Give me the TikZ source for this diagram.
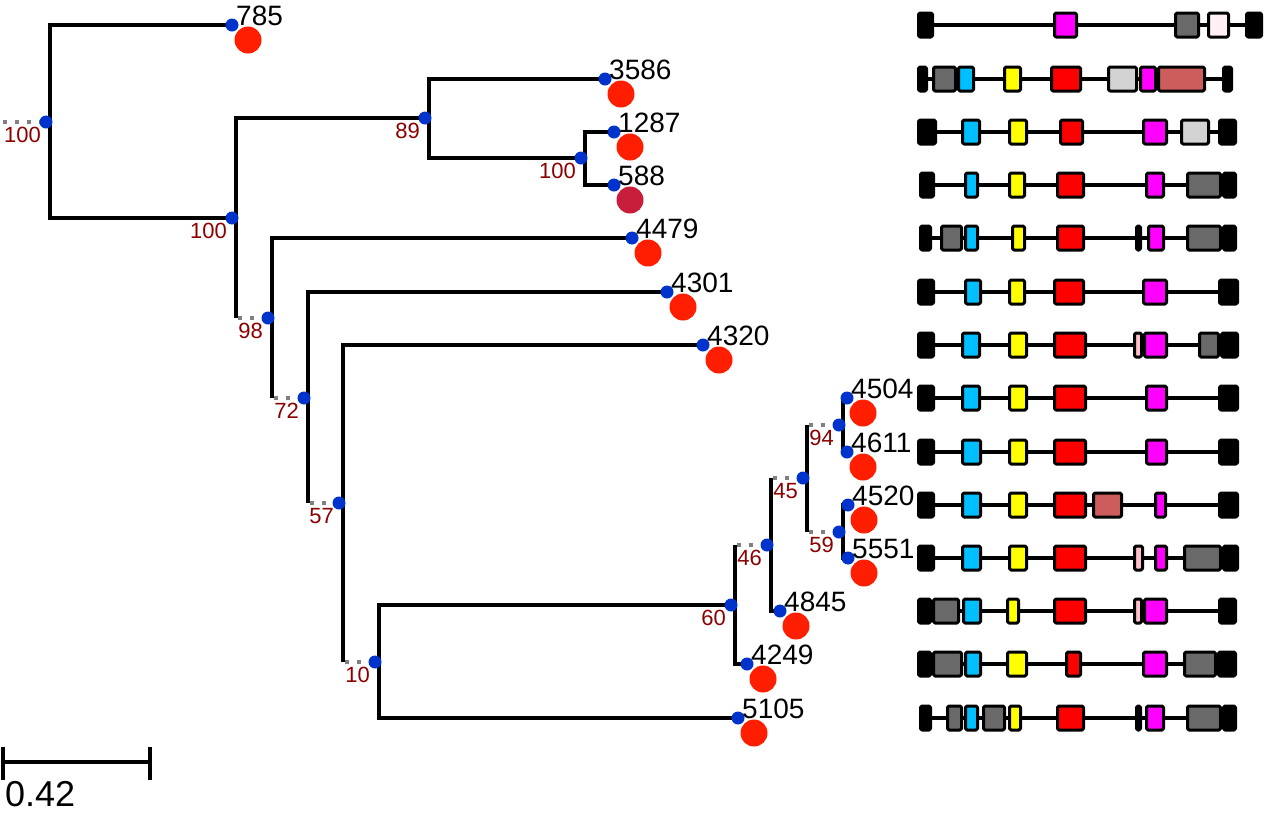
\documentclass[tikz,border=0pt]{standalone}
\usepackage{fontspec}
\setmainfont{Liberation Sans}
\usepackage{tikz}
\definecolor{nodeblue}{HTML}{0033CC}
\definecolor{tipred}{HTML}{FF1E00}
\definecolor{tipcrimson}{HTML}{C81E3C}
\definecolor{bootred}{HTML}{8B0000}
\definecolor{stubgray}{HTML}{808080}
\definecolor{dimgray}{HTML}{696969}
\definecolor{skyb}{HTML}{00BFFF}
\definecolor{lavblush}{HTML}{FFF0F5}
\definecolor{lgray}{HTML}{D3D3D3}
\definecolor{indred}{HTML}{CD5C5C}
\definecolor{pinkc}{HTML}{FFC0CB}
\definecolor{magc}{HTML}{FF00FF}
\definecolor{yelc}{HTML}{FFFF00}
\definecolor{redc}{HTML}{FF0000}
\tikzstyle{branch}=[line width=4pt,black]
\tikzstyle{stub}=[line width=4pt,stubgray,dash pattern=on 4pt off 8pt]
\tikzstyle{bdot}=[circle,fill=nodeblue,minimum size=13pt,inner sep=0pt]
\tikzstyle{rdot}=[circle,minimum size=27pt,inner sep=0pt]
\tikzstyle{tiplab}=[anchor=south west,inner sep=0pt,font=\fontsize{28}{30}\selectfont]
\tikzstyle{boot}=[anchor=north east,inner sep=0pt,text=bootred,font=\fontsize{22}{24}\selectfont]
\tikzstyle{backbone}=[line width=3.5pt,black]
\tikzstyle{dom}=[draw=black,line width=3pt,line join=round,rounded corners=1.5pt]
% y, left cap, right cap, domains x1/x2/colour
\newcommand{\protrow}[6]{%
  \draw[backbone] ({(#2+#3)/2},#1) -- ({(#4+#5)/2},#1);
  \foreach \a/\b in {#2/#3,#4/#5}
    \draw[dom,fill=black] (\a+1.5,#1-12) rectangle (\b-1.5,#1+12);
  \foreach \a/\b/\c in {#6}
    \draw[dom,fill=\c] (\a+1.5,#1-12) rectangle (\b-1.5,#1+12);}

\begin{document}
\begin{tikzpicture}[x=1pt,y=-1pt]
    \useasboundingbox (0,0) rectangle (1264,820);

    % inner nodes (x of the vertical line)
    \foreach \nm/\x/\y in {100a/50/122,100b/236/218,89/429/118,100c/585/158,98/272/318,
        72/308/398,57/343/503,10/379/662,60/735/605,46/771/545,45/807/478,94/843/425,59/843/532}
        \coordinate (n\nm) at (\x,\y);
    % leaves
    \foreach \nm/\x/\y in {785/232/25,3586/605/79,1287/614/132,588/614/185,4479/632/238,
        4301/667/292,4320/703/345,4504/847/398,4611/847/452,4520/848/505,4551/848/558,
        4845/780/611,4249/747/664,5105/738/718}
        \coordinate (t\nm) at (\x,\y);
    \coordinate (r0) at (3,122);

    \draw[stub] (r0) -- (n100a);
    \foreach \p/\c in {n100a/t785,n100a/n100b,n100b/n89,n89/t3586,n89/n100c,n100c/t1287,
        n100c/t588,n98/t4479,n72/t4301,n57/t4320,n10/n60,n10/t5105,n60/t4249,n46/t4845,
        n94/t4504,n94/t4611,n59/t4520,n59/t4551}
        \draw[branch] (\p) |- (\c);
    \foreach \p/\c in {n100b/n98,n98/n72,n72/n57,n57/n10,n60/n46,n46/n45,n45/n94,n45/n59}
    {
        \draw[branch] (\p) -- (\p |- \c);
        \draw[stub] ([xshift=2pt]\p |- \c) -- (\c);
    }

    \foreach \nm/\bs in {100a/100,100b/100,89/89,100c/100,98/98,72/72,57/57,10/10,
        60/60,46/46,45/45,94/94,59/59}
    {
        \node[bdot] (d\nm) at ([xshift=-4pt]n\nm) {};
        \node[boot] (b\nm) at ([shift={(-5,5)}]d\nm) {\bs};
    }
    \foreach \nm/\lab/\col in {785/785/tipred,3586/3586/tipred,1287/1287/tipred,588/588/tipcrimson,
        4479/4479/tipred,4301/4301/tipred,4320/4320/tipred,4504/4504/tipred,4611/4611/tipred,
        4520/4520/tipred,4551/5551/tipred,4845/4845/tipred,4249/4249/tipred,5105/5105/tipred}
    {
        \node[bdot] (d\nm) at (t\nm) {};
        \node[tiplab] (l\nm) at ([shift={(4,1)}]t\nm) {\lab};
        \node[rdot,fill=\col] (c\nm) at ([shift={(16,15)}]t\nm) {};
    }

    % domain architectures
    \protrow{25}{917}{934}{1245}{1263}{1053/1078/magc,1174/1200/dimgray,1207/1230/lavblush}
    \protrow{79}{917}{928}{1222}{1233}{932/957/dimgray,957/975/skyb,1003/1022/yelc,1050/1082/redc,1107/1138/lgray,1139/1157/magc,1157/1206/indred}
    \protrow{132}{917}{937}{1218}{1237}{961/981/skyb,1008/1028/yelc,1059/1084/redc,1142/1168/magc,1180/1210/lgray}
    \protrow{185}{919}{935}{1222}{1237}{964/979/skyb,1008/1026/yelc,1056/1085/redc,1145/1165/magc,1186/1222/dimgray}
    \protrow{238}{919}{932}{1222}{1237}{940/963/dimgray,964/979/skyb,1011/1026/yelc,1056/1085/redc,1135/1142/black,1147/1165/magc,1186/1222/dimgray}
    \protrow{292}{917}{935}{1218}{1239}{964/982/skyb,1008/1026/yelc,1053/1085/redc,1142/1168/magc}
    \protrow{345}{917}{935}{1220}{1239}{961/981/skyb,1008/1028/yelc,1053/1087/redc,1133/1143/pinkc,1143/1168/magc,1198/1220/dimgray}
    \protrow{398}{917}{935}{1218}{1239}{961/981/skyb,1008/1028/yelc,1053/1087/redc,1145/1168/magc}
    \protrow{452}{917}{935}{1218}{1239}{961/982/skyb,1008/1028/yelc,1053/1087/redc,1145/1168/magc}
    \protrow{505}{917}{935}{1218}{1239}{961/982/skyb,1008/1028/yelc,1053/1087/redc,1092/1123/indred,1154/1167/magc}
    \protrow{558}{917}{935}{1222}{1239}{961/982/skyb,1008/1028/yelc,1053/1087/redc,1133/1144/pinkc,1154/1168/magc,1183/1222/dimgray}
    \protrow{611}{917}{932}{1218}{1237}{932/960/dimgray,962/982/skyb,1006/1020/yelc,1053/1087/redc,1133/1143/pinkc,1143/1168/magc}
    \protrow{664}{917}{932}{1217}{1237}{932/963/dimgray,964/982/skyb,1006/1028/yelc,1065/1082/redc,1142/1168/magc,1183/1217/dimgray}
    \protrow{718}{919}{932}{1222}{1237}{946/963/dimgray,964/979/skyb,982/1006/dimgray,1008/1022/yelc,1056/1085/redc,1135/1142/black,1145/1165/magc,1186/1222/dimgray}

    % scale bar
    \coordinate (s0) at (3,762);
    \coordinate (s1) at (150,762);
    \draw[branch] (s0) -- (s1);
    \draw[branch] ([shift={(0,-15)}]s0) -- ([shift={(0,18)}]s0);
    \draw[branch] ([shift={(0,-15)}]s1) -- ([shift={(0,18)}]s1);
    \node[anchor=north west,inner sep=0pt,font=\fontsize{36}{40}\selectfont] (slab) at (5,781) {0.42};
\end{tikzpicture}
\end{document}
